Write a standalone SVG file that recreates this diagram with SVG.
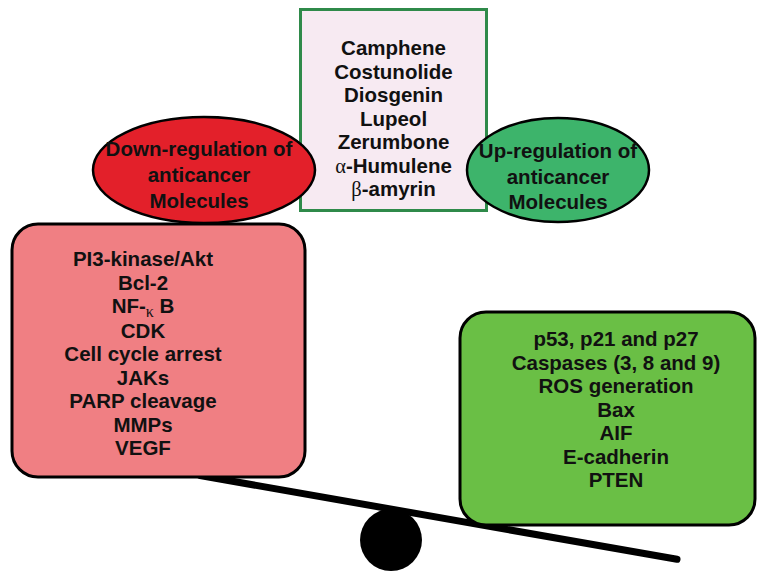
<svg xmlns="http://www.w3.org/2000/svg" width="761" height="587" viewBox="0 0 761 587">
<style>
.t{font-family:"Liberation Sans",Arial,sans-serif;font-weight:bold;font-size:20.5px;fill:#111;text-anchor:middle}
.g{font-family:"Liberation Serif","Times New Roman",serif;font-weight:normal}
.edge{stroke:#000;stroke-width:3}
</style>
<rect width="761" height="587" fill="#fff"/>
<g id="connectors">
<line x1="200" y1="475.5" x2="677" y2="559.3" stroke="#000" stroke-width="7" stroke-linecap="round"/>
<circle cx="391" cy="540" r="31" fill="#000"/>
</g>
<g id="compounds">
<rect x="300.5" y="9.5" width="186" height="201" fill="#f7eaf2" stroke="#2f8a4a" stroke-width="3"/>
<text class="t" x="393.5" y="55">Camphene</text>
<text class="t" x="393.5" y="78.5">Costunolide</text>
<text class="t" x="393.5" y="102">Diosgenin</text>
<text class="t" x="393.5" y="125.5">Lupeol</text>
<text class="t" x="393.5" y="149">Zerumbone</text>
<text class="t" x="393.5" y="172.5"><tspan class="g">α</tspan>-Humulene</text>
<text class="t" x="393.5" y="196"><tspan class="g">β</tspan>-amyrin</text>
</g>
<g id="down">
<ellipse cx="204" cy="170" rx="111" ry="53" fill="#e3202a" stroke="#000" stroke-width="2.5"/>
<text class="t" x="199" y="156">Down-regulation of</text>
<text class="t" x="199" y="182">anticancer</text>
<text class="t" x="199" y="208">Molecules</text>
</g>
<g id="up">
<ellipse cx="558" cy="170" rx="91" ry="52" fill="#3db46b" stroke="#000" stroke-width="2.5"/>
<text class="t" x="558" y="158">Up-regulation of</text>
<text class="t" x="558" y="184">anticancer</text>
<text class="t" x="558" y="209">Molecules</text>
</g>
<g id="downlist">
<rect x="12" y="224" width="293" height="253" rx="26" fill="#f07f83" class="edge"/>
<text class="t" x="143" y="266">PI3-kinase/Akt</text>
<text class="t" x="143" y="289.6">Bcl-2</text>
<text class="t" x="143" y="313.2">NF-<tspan class="g" font-size="16" dy="4">κ</tspan><tspan dy="-4"> B</tspan></text>
<text class="t" x="143" y="337.5">CDK</text>
<text class="t" x="143" y="361">Cell cycle arrest</text>
<text class="t" x="143" y="384.5">JAKs</text>
<text class="t" x="143" y="408">PARP cleavage</text>
<text class="t" x="143" y="431.5">MMPs</text>
<text class="t" x="143" y="455">VEGF</text>
</g>
<g id="uplist">
<rect x="460" y="312" width="295" height="213" rx="26" fill="#6abf45" class="edge"/>
<text class="t" x="616" y="346">p53, p21 and p27</text>
<text class="t" x="616" y="369.5">Caspases (3, 8 and 9)</text>
<text class="t" x="616" y="393">ROS generation</text>
<text class="t" x="616" y="416.5">Bax</text>
<text class="t" x="616" y="440">AIF</text>
<text class="t" x="616" y="463.5">E-cadherin</text>
<text class="t" x="616" y="487">PTEN</text>
</g>
</svg>
